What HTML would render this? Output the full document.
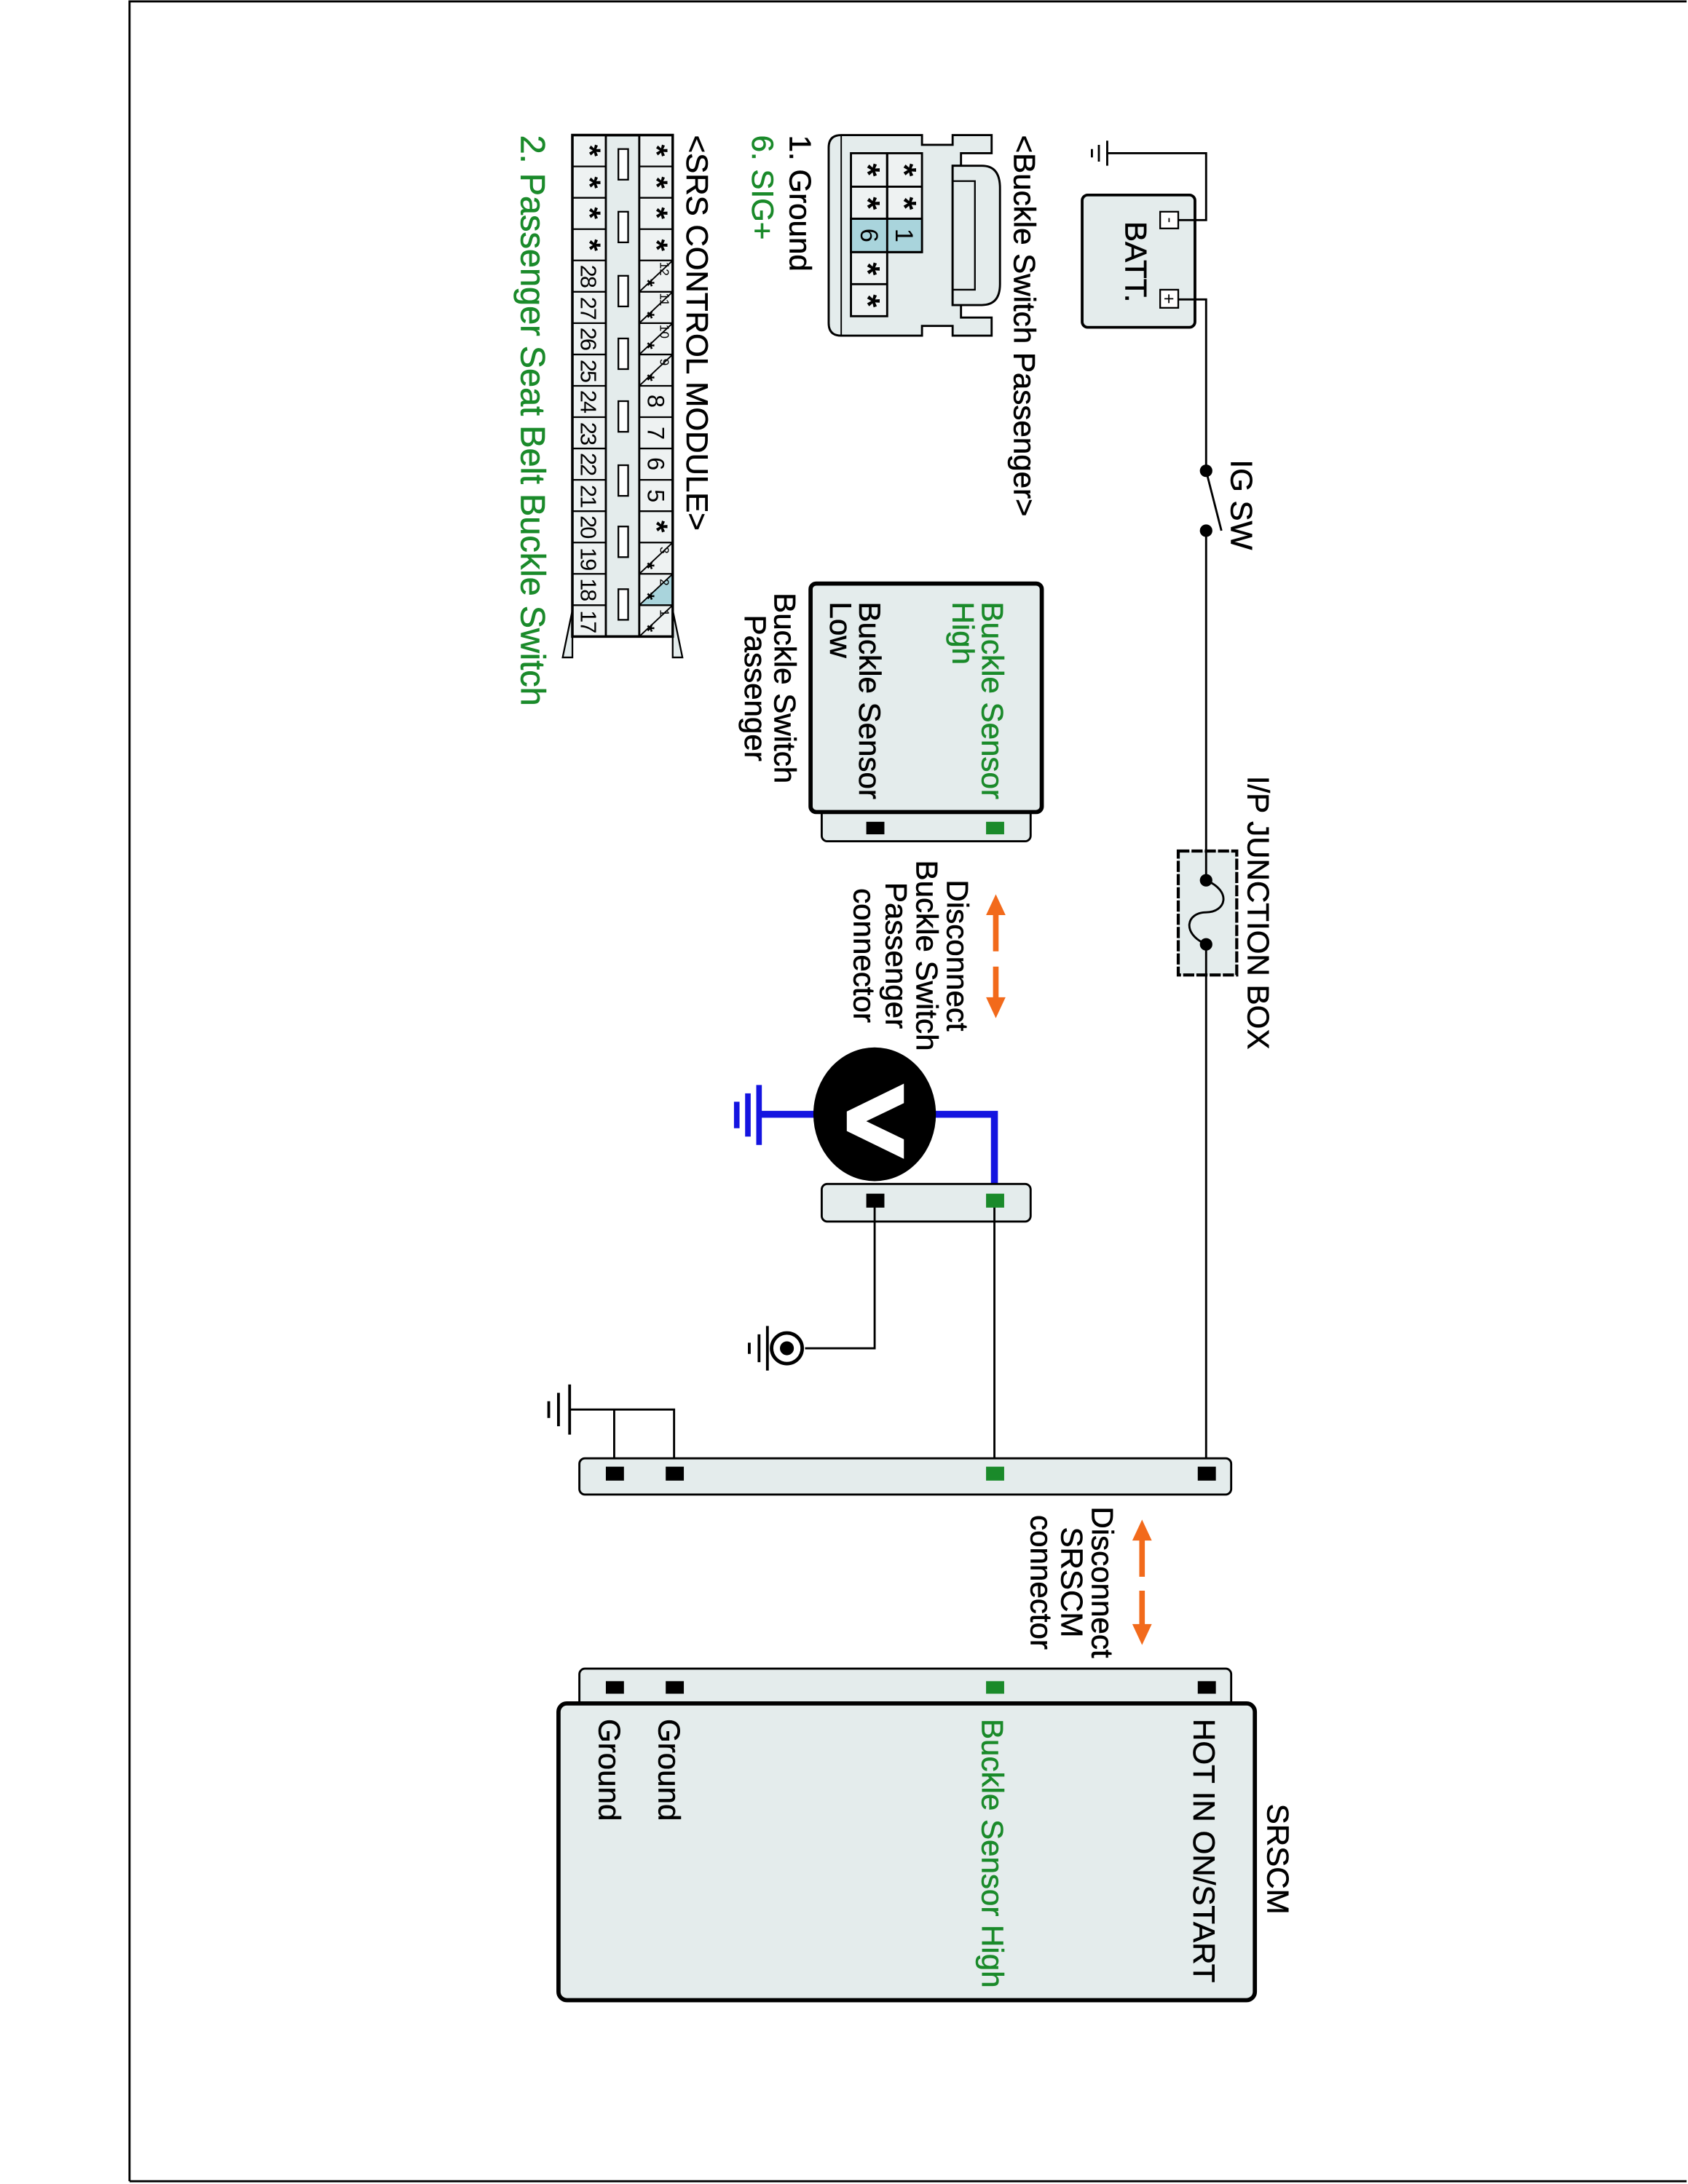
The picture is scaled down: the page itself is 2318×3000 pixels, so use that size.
<!DOCTYPE html>
<html><head><meta charset="utf-8"><style>
html,body{margin:0;padding:0;background:#fff}
svg{display:block}
text{font-family:"Liberation Sans",Arial,sans-serif}
</style></head><body>
<svg width="2318" height="3000" viewBox="0 0 1212 1568" preserveAspectRatio="none" xmlns="http://www.w3.org/2000/svg">
<rect x="0" y="0" width="1212" height="1568" fill="#fff"/>
<path d="M93,1566 L93,1 L1211,1 M93,1566 L1211,1566" stroke="#000" stroke-width="1.5" fill="none"/>

<g font-size="22" fill="#000" stroke-width="0.3">
<rect x="777" y="140" width="81" height="95" rx="4" fill="#e4ecec" stroke="#000" stroke-width="2"/>
<text transform="translate(808,188) rotate(90)" text-anchor="middle" stroke="#000">BATT.</text>
<rect x="833" y="152" width="13" height="12" fill="#fff" stroke="#000" stroke-width="1.2"/>
<rect x="833" y="208" width="13" height="13" fill="#fff" stroke="#000" stroke-width="1.2"/>
<text transform="translate(836,158) rotate(90)" text-anchor="middle" font-size="12">-</text>
<text transform="translate(835,214.5) rotate(90)" text-anchor="middle" font-size="13">+</text>
<path d="M846,158 H866 V110 H795" stroke="#000" stroke-width="1.5" fill="none"/>
<path d="M795,101 V119 M789,104 V116 M784,107 V113" stroke="#000" stroke-width="1.5"/>
<path d="M846,215 H866 V338 M866,381 V611 M866,700 V1050" stroke="#000" stroke-width="1.5" fill="none"/>
<circle cx="866" cy="338" r="4.5"/><circle cx="866" cy="381" r="4.5"/>
<path d="M866,338 L877,381" stroke="#000" stroke-width="1.5"/>
<text transform="translate(884,330) rotate(90)" stroke="#000">IG SW</text>
<rect x="846" y="611" width="42" height="89" fill="#e4ecec" stroke="#000" stroke-width="2.2" stroke-dasharray="8,1.5"/>
<path d="M866,611 V632 M866,678 V700" stroke="#000" stroke-width="1.5"/>
<path d="M866,632 C885,640 880,655 866,655 C852,655 848,670 866,678" stroke="#000" stroke-width="1.5" fill="none"/>
<circle cx="866" cy="632" r="4.5"/><circle cx="866" cy="678" r="4.5"/>
<text transform="translate(896,557) rotate(90)" stroke="#000">I/P JUNCTION BOX</text>

<rect x="590" y="580" width="150" height="24" rx="4" fill="#e4ecec" stroke="#000" stroke-width="1.5"/>
<rect x="582" y="419" width="166" height="164" rx="4" fill="#e4ecec" stroke="#000" stroke-width="3"/>
<rect x="708" y="590" width="13" height="9" fill="#1a8a2a"/>
<rect x="622" y="590" width="13" height="9" fill="#000"/>
<text transform="translate(705,432) rotate(90)" fill="#1a8a2a" stroke="#1a8a2a">Buckle Sensor</text>
<text transform="translate(684,432) rotate(90)" fill="#1a8a2a" stroke="#1a8a2a">High</text>
<text transform="translate(617,432) rotate(90)" stroke="#000">Buckle Sensor</text>
<text transform="translate(596,432) rotate(90)" stroke="#000">Low</text>
<text transform="translate(556,494) rotate(90)" text-anchor="middle" stroke="#000">Buckle Switch</text>
<text transform="translate(535,494) rotate(90)" text-anchor="middle" stroke="#000">Passenger</text>

<path d="M715,655 V683 M715,694 V720" stroke="#f26a1b" stroke-width="4"/>
<path d="M708,657 L715,642 L722,657 Z M708,716 L715,731 L722,716 Z" fill="#f26a1b"/>
<text transform="translate(680,686) rotate(90)" text-anchor="middle" stroke="#000">Disconnect</text>
<text transform="translate(658,686) rotate(90)" text-anchor="middle" stroke="#000">Buckle Switch</text>
<text transform="translate(636,686) rotate(90)" text-anchor="middle" stroke="#000">Passenger</text>
<text transform="translate(613,686) rotate(90)" text-anchor="middle" stroke="#000">connector</text>

<path d="M671,800 H714 V862" stroke="#1414e0" stroke-width="5" fill="none"/>
<path d="M585,800 H545" stroke="#1414e0" stroke-width="5"/>
<path d="M545,779 V822 M537,785 V816 M529,791 V810" stroke="#1414e0" stroke-width="4"/>
<ellipse cx="628" cy="800" rx="44" ry="48" fill="#000"/>
<path d="M649,778 L608,798 L608,812 L649,832 L649,818 L622,805 L649,792 Z" fill="#fff"/>

<rect x="590" y="850" width="150" height="27" rx="4" fill="#e4ecec" stroke="#000" stroke-width="1.5"/>
<path d="M714,862 V1058 M628,862 V968 H578" stroke="#000" stroke-width="1.5" fill="none"/>
<rect x="708" y="857" width="13" height="10" fill="#1a8a2a"/>
<rect x="622" y="857" width="13" height="10" fill="#000"/>
<circle cx="565" cy="968" r="11" fill="#fff" stroke="#000" stroke-width="2.5"/>
<circle cx="565" cy="968" r="5"/>
<path d="M551,952 V984 M545,958 V978 M538,964 V972" stroke="#000" stroke-width="2"/>

<path d="M484,1058 V1012 H409 M441,1058 V1012" stroke="#000" stroke-width="1.5" fill="none"/>
<path d="M409,994 V1030 M401,1000 V1024 M394,1006 V1018" stroke="#000" stroke-width="2"/>
<rect x="416" y="1047" width="468" height="26" rx="4" fill="#e4ecec" stroke="#000" stroke-width="1.5"/>
<rect x="860" y="1053" width="13" height="10" fill="#000"/>
<rect x="708" y="1053" width="13" height="10" fill="#1a8a2a"/>
<rect x="478" y="1053" width="13" height="10" fill="#000"/>
<rect x="435" y="1053" width="13" height="10" fill="#000"/>

<path d="M820,1105 V1132 M820,1142 V1168" stroke="#f26a1b" stroke-width="4"/>
<path d="M813,1106 L820,1091 L827,1106 Z M813,1166 L820,1181 L827,1166 Z" fill="#f26a1b"/>
<text transform="translate(784,1136) rotate(90)" text-anchor="middle" stroke="#000">Disconnect</text>
<text transform="translate(762,1136) rotate(90)" text-anchor="middle" stroke="#000">SRSCM</text>
<text transform="translate(740,1136) rotate(90)" text-anchor="middle" stroke="#000">connector</text>

<rect x="416" y="1198" width="468" height="30" rx="4" fill="#e4ecec" stroke="#000" stroke-width="1.5"/>
<rect x="401" y="1223" width="500" height="213" rx="6" fill="#e4ecec" stroke="#000" stroke-width="3"/>
<rect x="860" y="1207" width="13" height="9" fill="#000"/>
<rect x="708" y="1207" width="13" height="9" fill="#1a8a2a"/>
<rect x="478" y="1207" width="13" height="9" fill="#000"/>
<rect x="435" y="1207" width="13" height="9" fill="#000"/>
<text transform="translate(910,1295) rotate(90)" stroke="#000">SRSCM</text>
<text transform="translate(857,1234) rotate(90)" stroke="#000">HOT IN ON/START</text>
<text transform="translate(705,1234) rotate(90)" fill="#1a8a2a" stroke="#1a8a2a">Buckle Sensor High</text>
<text transform="translate(473,1234) rotate(90)" stroke="#000">Ground</text>
<text transform="translate(430,1234) rotate(90)" stroke="#000">Ground</text>

<text transform="translate(728,97) rotate(90)" stroke="#000">&lt;Buckle Switch Passenger&gt;</text>
<text transform="translate(567,97) rotate(90)" stroke="#000">1. Ground</text>
<text transform="translate(540,97) rotate(90)" fill="#1a8a2a" stroke="#1a8a2a">6. SIG+</text>
<text transform="translate(493,97) rotate(90)" stroke="#000">&lt;SRS CONTROL MODULE&gt;</text>
<text transform="translate(374,97) rotate(90)" fill="#1a8a2a" stroke="#1a8a2a" font-size="24.5">2. Passenger Seat Belt Buckle Switch</text>
</g>

<path d="M604,97 H662 V104 H684 V97 H712 V110 H690 V119 H684 V219 H690 V228 H712 V241 H684 V234 H662 V241 H604 Q595,241 595,232 V106 Q595,97 604,97 Z" fill="#e4ecec" stroke="#000" stroke-width="1.5"/>
<path d="M604,97 V241" stroke="#000" stroke-width="1"/>
<path d="M684,119 H705 Q718,119 718,135 V204 Q718,219 705,219 H684 Z" fill="#e4ecec" stroke="#000" stroke-width="1.5"/>
<path d="M684,130 H700 V208 H684" fill="none" stroke="#000" stroke-width="1.2"/>
<g stroke="#000" stroke-width="1.5">
<rect x="611" y="110" width="26" height="117" fill="#eef2f2"/>
<rect x="637" y="110" width="25" height="71" fill="#eef2f2"/>
<rect x="611" y="157" width="51" height="24" fill="#a9d4dc"/>
<path d="M637,110 V181 M611,134 H662 M611,157 H662 M611,181 H662 M611,204 H637" fill="none"/>
</g>
<g font-size="24" font-weight="bold" fill="#000" text-anchor="middle">
<text transform="translate(641,122) rotate(90)">*</text>
<text transform="translate(641,146) rotate(90)">*</text>
<text transform="translate(615,122) rotate(90)">*</text>
<text transform="translate(615,146) rotate(90)">*</text>
<text transform="translate(615,193) rotate(90)">*</text>
<text transform="translate(615,216) rotate(90)">*</text>
</g>
<g font-size="18" fill="#000" text-anchor="middle">
<text transform="translate(643,169) rotate(90)">1</text>
<text transform="translate(618,169) rotate(90)">6</text>
</g>

<path d="M411,438 L404,472 L411,472 Z M483,438 L490,472 L483,472 Z" fill="#e4ecec" stroke="#000" stroke-width="1.2"/>
<rect x="411" y="97" width="72" height="360" fill="#e4ecec" stroke="#000" stroke-width="1.8"/>
<path d="M411,97 H435 V457 H411 Z" fill="#eef2f2"/>
<path d="M459,97 H483 V457 H459 Z" fill="#eef2f2"/>
<path d="M459,434.5 L483,434.5 L483,412 Z" fill="#a9d4dc"/>
<rect x="411" y="97" width="72" height="360" fill="none" stroke="#000" stroke-width="1.8"/>
<path d="M435,97 V457 M459,97 V457" stroke="#000" stroke-width="1.5"/>
<g stroke="#000" stroke-width="1.2">
<path d="M411,119.5 H435 M411,142 H435 M411,164.5 H435 M411,187 H435 M411,209.5 H435 M411,232 H435 M411,254.5 H435 M411,277 H435 M411,299.5 H435 M411,322 H435 M411,344.5 H435 M411,367 H435 M411,389.5 H435 M411,412 H435 M411,434.5 H435"/>
<path d="M459,119.5 H483 M459,142 H483 M459,164.5 H483 M459,187 H483 M459,209.5 H483 M459,232 H483 M459,254.5 H483 M459,277 H483 M459,299.5 H483 M459,322 H483 M459,344.5 H483 M459,367 H483 M459,389.5 H483 M459,412 H483 M459,434.5 H483"/>
</g>
<g stroke="#000" stroke-width="1">
<path d="M459,209.5 L483,187 M459,232 L483,209.5 M459,254.5 L483,232 M459,277 L483,254.5 M459,412 L483,389.5 M459,434.5 L483,412 M459,457 L483,434.5"/>
</g>
<g fill="#fff" stroke="#000" stroke-width="1.2">
<rect x="444" y="107" width="7" height="22"/><rect x="444" y="152" width="7" height="22"/>
<rect x="444" y="198" width="7" height="22"/><rect x="444" y="243" width="7" height="22"/>
<rect x="444" y="288" width="7" height="22"/><rect x="444" y="334" width="7" height="22"/>
<rect x="444" y="378" width="7" height="22"/><rect x="444" y="423" width="7" height="22"/>
</g>
<g font-size="22" font-weight="bold" fill="#000" text-anchor="middle">
<text transform="translate(464,108) rotate(90)">*</text>
<text transform="translate(464,131) rotate(90)">*</text>
<text transform="translate(464,153) rotate(90)">*</text>
<text transform="translate(464,176) rotate(90)">*</text>
<text transform="translate(464,378) rotate(90)">*</text>
<text transform="translate(416,108) rotate(90)">*</text>
<text transform="translate(416,131) rotate(90)">*</text>
<text transform="translate(416,153) rotate(90)">*</text>
<text transform="translate(416,176) rotate(90)">*</text>
</g>
<g font-size="14" font-weight="bold" fill="#000" text-anchor="middle">
<text transform="translate(460,203) rotate(90)">*</text>
<text transform="translate(460,226) rotate(90)">*</text>
<text transform="translate(460,248) rotate(90)">*</text>
<text transform="translate(460,271) rotate(90)">*</text>
<text transform="translate(460,406) rotate(90)">*</text>
<text transform="translate(460,428) rotate(90)">*</text>
<text transform="translate(460,451) rotate(90)">*</text>
</g>
<g font-size="9" fill="#000" text-anchor="middle">
<text transform="translate(474,193) rotate(90)">12</text>
<text transform="translate(474,215) rotate(90)">11</text>
<text transform="translate(474,238) rotate(90)">10</text>
<text transform="translate(474,260) rotate(90)">9</text>
<text transform="translate(474,395) rotate(90)">3</text>
<text transform="translate(474,418) rotate(90)">2</text>
<text transform="translate(474,440) rotate(90)">1</text>
</g>
<g font-size="17" fill="#000" text-anchor="middle">
<text transform="translate(465,288) rotate(90)">8</text>
<text transform="translate(465,311) rotate(90)">7</text>
<text transform="translate(465,333) rotate(90)">6</text>
<text transform="translate(465,356) rotate(90)">5</text>
</g>
<g font-size="16" fill="#000" text-anchor="middle" letter-spacing="-1">
<text transform="translate(417,198) rotate(90)">28</text>
<text transform="translate(417,221) rotate(90)">27</text>
<text transform="translate(417,243) rotate(90)">26</text>
<text transform="translate(417,266) rotate(90)">25</text>
<text transform="translate(417,288) rotate(90)">24</text>
<text transform="translate(417,311) rotate(90)">23</text>
<text transform="translate(417,333) rotate(90)">22</text>
<text transform="translate(417,356) rotate(90)">21</text>
<text transform="translate(417,378) rotate(90)">20</text>
<text transform="translate(417,401) rotate(90)">19</text>
<text transform="translate(417,423) rotate(90)">18</text>
<text transform="translate(417,446) rotate(90)">17</text>
</g>
</svg>
</body></html>
